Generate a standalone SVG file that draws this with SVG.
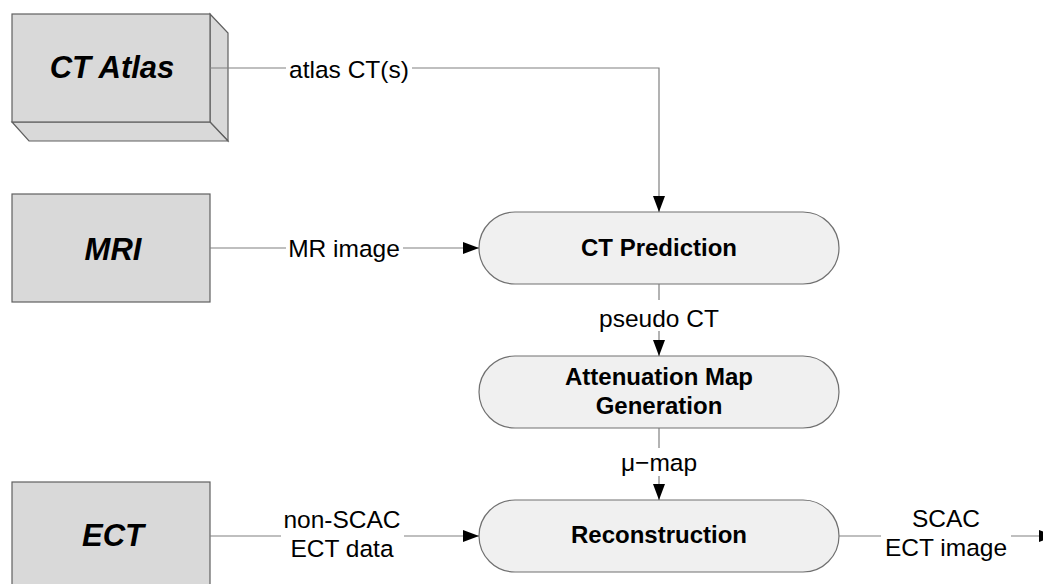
<svg xmlns="http://www.w3.org/2000/svg" width="1043" height="584" viewBox="0 0 1043 584">
<style>
.src{fill:#d9d9d9;stroke:#606060;stroke-width:1.2}
.proc{fill:#f0f0f0;stroke:#707070;stroke-width:1.2}
.big{font-family:"Liberation Sans",Arial,sans-serif;font-weight:bold;font-style:italic;font-size:31px;text-anchor:middle;fill:#000}
.ptxt{font-family:"Liberation Sans",Arial,sans-serif;font-weight:bold;font-size:24px;text-anchor:middle;fill:#000}
.lbl{font-family:"Liberation Sans",Arial,sans-serif;font-size:24.5px;text-anchor:middle;fill:#000}
.con{fill:none;stroke:#808080;stroke-width:1.2}
</style>
<defs>
<marker id="arr" markerUnits="userSpaceOnUse" markerWidth="18" markerHeight="14" refX="16" refY="6" orient="auto">
<path d="M0,0 L16,6 L0,12 z" fill="#000"/>
</marker>
</defs>
<rect width="1043" height="584" fill="#fff"/>
<g id="ct-atlas">
<polygon class="src" points="210,14 228,33 228,141 210,122"/>
<polygon class="src" points="12,122 210,122 228,141 29,141"/>
<rect class="src" x="12" y="14" width="198" height="108"/>
<text class="big" x="112" y="78">CT Atlas</text>
</g>
<g id="mri">
<rect class="src" x="12" y="194" width="198" height="108"/>
<text class="big" x="113" y="260">MRI</text>
</g>
<g id="ect">
<rect class="src" x="12" y="482" width="198" height="120"/>
<text class="big" x="113" y="546">ECT</text>
</g>
<g id="ct-prediction">
<rect class="proc" x="479" y="212" width="360" height="72" rx="36" ry="36"/>
<text class="ptxt" x="659" y="256">CT Prediction</text>
</g>
<g id="attenuation-map">
<rect class="proc" x="479" y="356" width="360" height="72" rx="36" ry="36"/>
<text class="ptxt" x="659" y="385">Attenuation Map</text>
<text class="ptxt" x="659" y="414">Generation</text>
</g>
<g id="reconstruction">
<rect class="proc" x="479" y="500" width="360" height="72" rx="36" ry="36"/>
<text class="ptxt" x="659" y="543">Reconstruction</text>
</g>
<g id="connectors">
<path class="con" d="M210,68 H286"/>
<path class="con" d="M412,68 H659 V212" marker-end="url(#arr)"/>
<text class="lbl" x="349" y="78">atlas CT(s)</text>
<path class="con" d="M210,248 H286"/>
<path class="con" d="M403,248 H479" marker-end="url(#arr)"/>
<text class="lbl" x="344" y="257">MR image</text>
<path class="con" d="M659,284 V300"/>
<path class="con" d="M659,331 V356" marker-end="url(#arr)"/>
<text class="lbl" x="659" y="327">pseudo CT</text>
<path class="con" d="M659,428 V448"/>
<path class="con" d="M659,476 V500" marker-end="url(#arr)"/>
<text class="lbl" x="659" y="471">μ−map</text>
<path class="con" d="M210,536 H281"/>
<path class="con" d="M404,536 H479" marker-end="url(#arr)"/>
<text class="lbl" x="342" y="528">non-SCAC</text>
<text class="lbl" x="342" y="557">ECT data</text>
<path class="con" d="M839,536 H881"/>
<path class="con" d="M1011,536 H1055" marker-end="url(#arr)"/>
<text class="lbl" x="946" y="527">SCAC</text>
<text class="lbl" x="946" y="556">ECT image</text>
</g>
</svg>
